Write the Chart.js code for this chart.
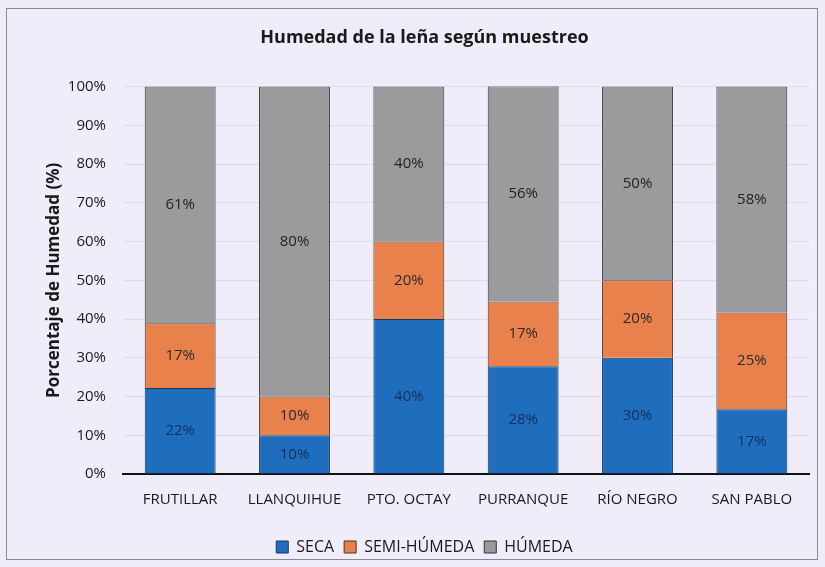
<!DOCTYPE html>
<html>
<head>
<meta charset="utf-8">
<script src="https://cdn.jsdelivr.net/npm/chart.js@4.4.1/dist/chart.umd.min.js"></script>
<style>
  html, body { margin: 0; padding: 0; background: #efedf9; }
  #wrap { position: relative; width: 825px; height: 567px; }
</style>
</head>
<body>
<div id="wrap"><canvas id="chart" width="825" height="567"></canvas></div>
<script>
const categories = ['FRUTILLAR', 'LLANQUIHUE', 'PTO. OCTAY', 'PURRANQUE', 'RÍO NEGRO', 'SAN PABLO'];
const seca = [22.2, 10, 40, 27.8, 30, 16.7];
const semiHumeda = [16.7, 10, 20, 16.7, 20, 25];
const humeda = [61.1, 80, 40, 55.6, 50, 58.3];
const yTicks = [0, 10, 20, 30, 40, 50, 60, 70, 80, 90, 100];

const FONT = "'Open Sans', 'Noto Sans', sans-serif";

// frame + background
const framePlugin = {
    id: 'frame',
    beforeDraw(c) {
        const ctx = c.ctx;
        ctx.save();
        ctx.fillStyle = '#efedf9';
        ctx.fillRect(0, 0, c.width, c.height);
        ctx.strokeStyle = '#8a8a8a';
        ctx.lineWidth = 1;
        ctx.strokeRect(6.5, 8.5, 811, 551);
        ctx.restore();
    }
};

// value labels in the middle of each segment
const labelPlugin = {
    id: 'segLabels',
    afterDatasetsDraw(c) {
        const ctx = c.ctx;
        ctx.save();
        ctx.font = `15px ${FONT}`;
        ctx.textAlign = 'center';
        ctx.textBaseline = 'middle';
        c.data.datasets.forEach((ds, i) => {
            const meta = c.getDatasetMeta(i);
            meta.data.forEach((bar, j) => {
                const v = ds.data[j];
                ctx.fillStyle = ds.labelColor;
                ctx.fillText(Math.round(v) + '%', bar.x, (bar.y + bar.base) / 2);
            });
        });
        ctx.restore();
    }
};

const ctx = document.getElementById('chart').getContext('2d');
new Chart(ctx, {
    type: 'bar',
    data: {
        labels: categories,
        datasets: [
            { label: 'SECA', data: seca, backgroundColor: '#1f6ebd', borderColor: '#1a3558', labelColor: '#12305a' },
            { label: 'SEMI-HÚMEDA', data: semiHumeda, backgroundColor: '#e8814c', borderColor: '#4a3226', labelColor: '#2a2a2a' },
            { label: 'HÚMEDA', data: humeda, backgroundColor: '#9b9b9d', borderColor: '#333333', labelColor: '#222222' }
        ].map(d => Object.assign(d, { borderWidth: 1, barPercentage: 0.62, categoryPercentage: 1 }))
    },
    options: {
        responsive: false,
        animation: false,
        layout: { padding: { top: 27, left: 40, right: 16, bottom: 2 } },
        plugins: {
            title: {
                display: true,
                text: 'Humedad de la leña según muestreo',
                font: { family: FONT, size: 18, weight: 'bold' },
                color: '#1a1a1a',
                padding: { top: 0, bottom: 38 }
            },
            legend: {
                position: 'bottom',
                labels: {
                    font: { family: FONT, size: 16 },
                    color: '#1a1a1a',
                    boxWidth: 12,
                    boxHeight: 12,
                    padding: 10
                }
            },
            tooltip: { enabled: false }
        },
        scales: {
            x: {
                stacked: true,
                grid: { display: false },
                border: { color: '#111', width: 2 },
                ticks: { font: { family: FONT, size: 15 }, color: '#1a1a1a', padding: 9 },
                afterFit: axis => { axis.height = 55; }
            },
            y: {
                stacked: true,
                min: 0,
                max: 100,
                afterBuildTicks: axis => { axis.ticks = yTicks.map(v => ({ value: v })); },
                afterFit: axis => { axis.width = 83; },
                ticks: {
                    font: { family: FONT, size: 15 },
                    color: '#1a1a1a',
                    padding: 17,
                    callback: v => v + '%'
                },
                grid: { color: '#dddbe8', drawTicks: false },
                border: { display: false },
                title: {
                    display: true,
                    text: 'Porcentaje de Humedad (%)',
                    font: { family: FONT, size: 17, weight: 'bold' },
                    color: '#1a1a1a',
                    padding: { bottom: 4 }
                }
            }
        }
    },
    plugins: [framePlugin, labelPlugin]
});
</script>
</body>
</html>
